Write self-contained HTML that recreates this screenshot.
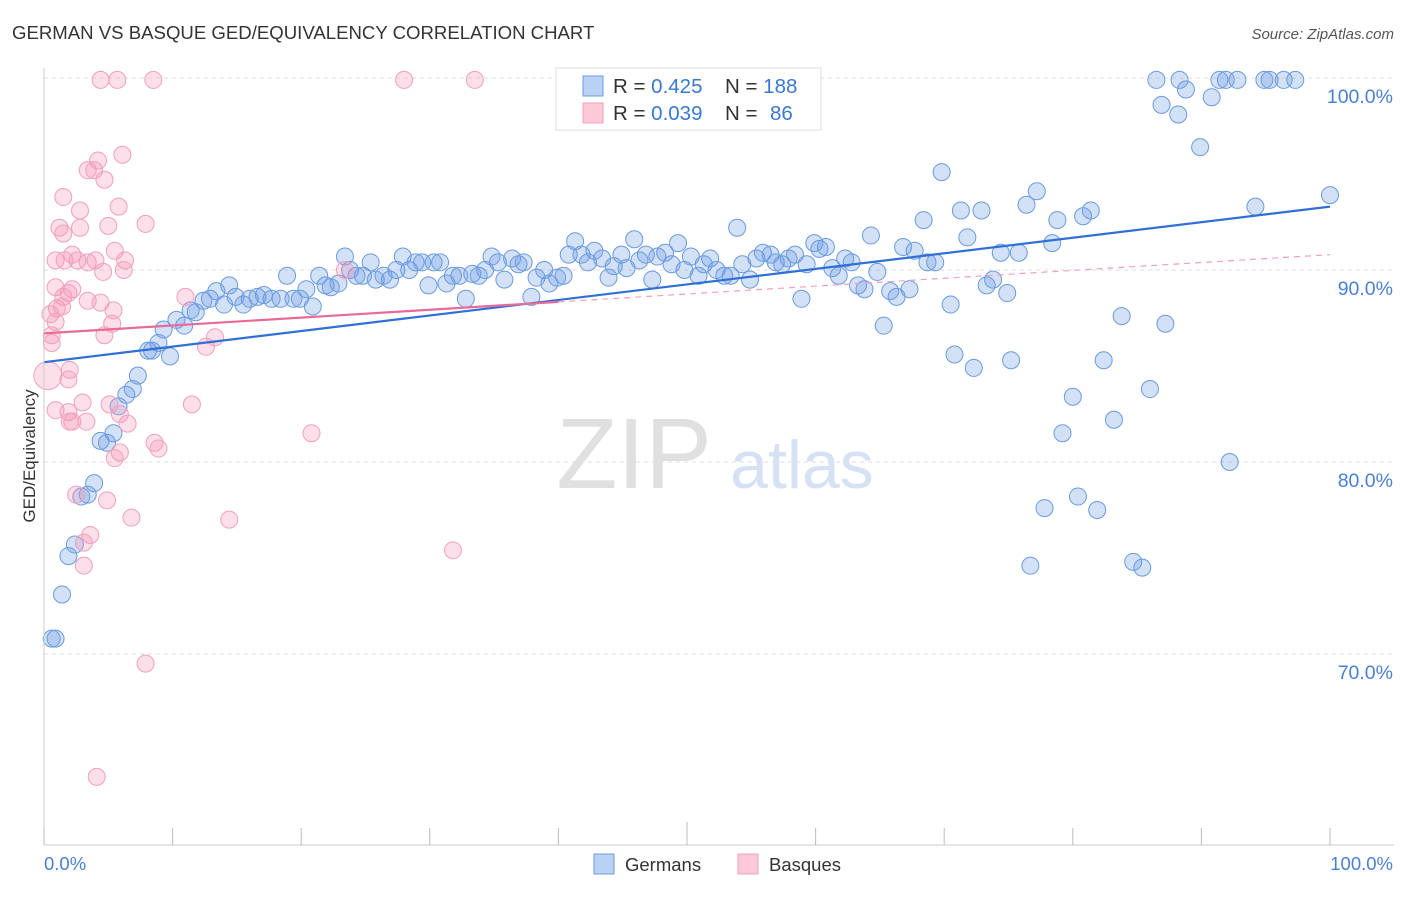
<!DOCTYPE html>
<html><head><meta charset="utf-8"><style>
body{margin:0;background:#fff;font-family:"Liberation Sans",sans-serif}
svg text{font-family:"Liberation Sans",sans-serif}
</style></head><body>
<svg id="chart" width="1406" height="892" xmlns="http://www.w3.org/2000/svg">
<text x="12" y="39" font-size="18.6" fill="#333">GERMAN VS BASQUE GED/EQUIVALENCY CORRELATION CHART</text>
<text x="1394" y="39" font-size="15" fill="#555" font-style="italic" text-anchor="end">Source: ZipAtlas.com</text>
<g id="grid"></g>
<text x="634" y="488" font-size="100" fill="#e0e0e0" font-family="Liberation Serif" text-anchor="middle">ZIP</text>
<text x="802" y="488" font-size="68" fill="#d6e2f4" text-anchor="middle">atlas</text>
<g id="pts"></g>
<g id="trends"></g>
<line x1="44" y1="68" x2="44" y2="845" stroke="#ccc"/>
<line x1="44" y1="845" x2="1394" y2="845" stroke="#ccc"/>
<g id="ticks"></g>
<text transform="translate(35,456) rotate(-90)" font-size="17" fill="#333" text-anchor="middle">GED/Equivalency</text>
<text x="44" y="870" font-size="18.5" fill="#4a7fd4">0.0%</text>
<text x="1393" y="870" font-size="18.5" fill="#4a7fd4" text-anchor="end">100.0%</text>
<g>
<rect x="556" y="68" width="265" height="62" fill="#fff" stroke="#ddd"/>
<rect x="583" y="76" width="20" height="20" fill="#b9d2f4" stroke="#6a9be0"/>
<rect x="583" y="103" width="20" height="20" fill="#fbc9d8" stroke="#f0a0bc"/>
<text x="613" y="93" font-size="20.5" fill="#333">R = <tspan fill="#3a78d6">0.425</tspan><tspan x="725">N = </tspan><tspan fill="#3a78d6">188</tspan></text>
<text x="613" y="120" font-size="20.5" fill="#333">R = <tspan fill="#3a78d6">0.039</tspan><tspan x="725">N = </tspan><tspan x="770" fill="#3a78d6">86</tspan></text>
</g>
<g>
<rect x="594" y="854" width="20" height="20" fill="#b9d2f4" stroke="#6a9be0"/>
<text x="625" y="871" font-size="18.5" fill="#333">Germans</text>
<rect x="738" y="854" width="20" height="20" fill="#fbc9d8" stroke="#f0a0bc"/>
<text x="769" y="871" font-size="18.5" fill="#333">Basques</text>
</g>
</svg>
<script>
const yTicks=[100,90,80,70];
const yTickLabels=["100.0%","90.0%","80.0%","70.0%"];
const xTicks=[0,10,20,30,40,50,60,70,80,90,100];
const germansX=[0.6,0.9,1.4,1.9,2.4,2.9,3.4,3.9,4.4,4.9,5.4,5.8,6.4,6.9,7.3,8.1,8.4,8.9,9.8,9.3,10.3,10.9,11.4,11.8,12.4,12.9,13.4,14.0,14.4,14.9,15.5,16.0,16.6,17.1,17.7,18.4,18.9,19.4,19.9,20.4,20.9,21.4,21.9,22.3,22.9,23.4,23.8,24.3,24.8,25.4,25.8,26.4,26.9,27.4,27.9,28.4,28.9,29.4,29.9,30.3,30.8,31.3,31.8,32.3,32.8,33.3,33.8,34.3,34.8,35.3,35.8,36.4,36.9,37.3,37.9,38.3,38.9,39.3,39.9,40.4,40.8,41.3,41.8,42.3,42.8,43.4,43.9,44.3,44.9,45.3,45.9,46.3,46.8,47.3,47.7,48.3,48.8,49.3,49.8,50.3,50.9,51.3,51.8,52.3,52.9,53.4,53.9,54.3,54.9,55.4,55.9,56.5,56.9,57.4,57.9,58.4,58.9,59.3,59.9,60.3,60.8,61.3,61.8,62.3,62.8,63.3,63.8,64.3,64.8,65.3,65.8,66.3,66.8,67.3,67.7,68.4,68.7,69.3,69.8,70.5,70.8,71.3,71.8,72.3,72.9,73.3,73.8,74.4,74.9,75.2,75.8,76.4,76.7,77.2,77.8,78.4,78.8,79.2,80.0,80.4,80.8,81.4,81.9,82.4,83.2,83.8,84.7,85.4,86.0,86.5,86.9,87.2,88.2,88.3,88.8,89.9,90.8,91.4,91.9,92.2,92.8,94.2,94.9,95.3,96.4,97.3,100];
const germansY=[70.8,70.8,73.1,75.1,75.7,78.2,78.3,78.9,81.1,81.0,81.5,82.9,83.5,83.8,84.5,85.8,85.8,86.2,85.5,86.9,87.4,87.1,87.9,87.8,88.4,88.5,88.9,88.2,89.2,88.6,88.2,88.5,88.6,88.7,88.5,88.5,89.7,88.5,88.5,89.0,88.1,89.7,89.2,89.1,89.3,90.7,90.0,89.7,89.7,90.4,89.5,89.7,89.5,90.0,90.7,90.0,90.4,90.4,89.2,90.4,90.4,89.3,89.7,89.7,88.5,89.8,89.7,90.0,90.7,90.4,89.5,90.6,90.3,90.4,88.6,89.6,90.0,89.3,89.6,89.7,90.8,91.5,90.8,90.4,91.0,90.6,89.6,90.2,90.8,90.1,91.6,90.5,90.8,89.5,90.7,90.9,90.3,91.4,90.0,90.7,89.7,90.3,90.6,90.0,89.7,89.7,92.2,90.3,89.5,90.6,90.9,90.8,90.4,90.3,90.6,90.8,88.5,90.3,91.4,91.1,91.2,90.1,89.7,90.6,90.4,89.2,89.0,91.8,89.9,87.1,88.9,88.6,91.2,89.0,91.0,92.6,90.4,90.4,95.1,88.2,85.6,93.1,91.7,84.9,93.1,89.2,89.5,90.9,88.8,85.3,90.9,93.4,74.6,94.1,77.6,91.4,92.6,81.5,83.4,78.2,92.8,93.1,77.5,85.3,82.2,87.6,74.8,74.5,83.8,99.9,98.6,87.2,98.1,99.9,99.4,96.4,99.0,99.9,99.9,80.0,99.9,93.3,99.9,99.9,99.9,99.9,93.9];
const basquesX=[4.4,5.7,8.5,28.0,33.5,6.1,4.2,3.4,3.9,4.7,1.5,5.8,2.8,7.9,1.2,2.8,5.0,1.5,5.5,2.2,0.9,1.6,2.6,3.4,4.0,6.3,4.6,6.2,23.4,0.9,2.2,1.5,1.9,3.4,11.0,4.4,1.0,1.4,5.4,0.5,0.9,5.3,0.6,4.7,13.3,12.6,0.6,0.3,2.0,1.9,3.0,5.1,11.5,0.9,1.9,2.2,5.9,3.3,2.0,6.5,20.8,8.6,8.9,5.9,5.5,2.5,4.9,6.8,14.4,3.6,3.1,31.8,3.1,7.9,4.1];
const basquesY=[99.9,99.9,99.9,99.9,99.9,96.0,95.7,95.2,95.2,94.7,93.8,93.3,93.1,92.4,92.2,92.2,92.3,91.9,91.0,90.8,90.5,90.5,90.5,90.4,90.5,90.5,89.9,90.0,90.0,89.1,89.0,88.6,88.8,88.4,88.6,88.3,88.0,88.1,87.9,87.7,87.3,87.2,86.6,86.6,86.5,86.0,86.2,84.5,84.8,84.3,83.1,83.0,83.0,82.7,82.6,82.1,82.5,82.1,82.1,82.0,81.5,81.0,80.7,80.5,80.2,78.3,78.0,77.1,77.0,76.2,75.8,75.4,74.6,69.5,63.6];
const germansTrend=[85.2,93.3];
const basquesTrend=[86.7,90.8];
const basquesSolidEnd=40;

const NS="http://www.w3.org/2000/svg";
const X=v=>44+v*12.86;
const Y=v=>78+(100-v)*19.2;
function mk(tag,attrs,parent){const e=document.createElementNS(NS,tag);for(const k in attrs)e.setAttribute(k,attrs[k]);parent.appendChild(e);return e;}
const grid=document.getElementById('grid');
yTicks.forEach((t,i)=>{
  const l=mk('line',{x1:44,x2:1394,y1:Y(t),y2:Y(t),stroke:'#ddd','stroke-dasharray':'4,4'},grid);
  
  
  const tx=mk('text',{x:1393,y:Y(t)+25,'font-size':19.5,fill:'#4a7fd4','text-anchor':'end'},grid);
  tx.textContent=yTickLabels[i];
  
  
});
const ticks=document.getElementById('ticks');
xTicks.forEach(t=>{
  const l=mk('line',{x1:X(t),x2:X(t),y1:t===50?822:828,y2:845,stroke:'#bbb'},ticks);
  
  
});
const pts=document.getElementById('pts');
germansX.forEach((x,i)=>{
  const c=mk('circle',{cx:X(x),cy:Y(germansY[i]),r:8.5,fill:'rgba(110,155,230,0.3)',stroke:'#6a9be0','stroke-width':1},pts);
  
  
});
basquesX.forEach((x,i)=>{
  const c=mk('circle',{cx:X(x),cy:Y(basquesY[i]),r:i===47?14:8.5,fill:'rgba(245,150,180,0.3)',stroke:'#f0a0bc','stroke-width':1},pts);
  
  
});
const tr=document.getElementById('trends');
const gl=mk('line',{x1:X(0),y1:Y(germansTrend[0]),x2:X(100),y2:Y(germansTrend[1]),stroke:'#2f6fd6','stroke-width':2.2},tr);


const bAt=v=>basquesTrend[0]+(basquesTrend[1]-basquesTrend[0])*v/100;
const bl=mk('line',{x1:X(0),y1:Y(bAt(0)),x2:X(basquesSolidEnd),y2:Y(bAt(basquesSolidEnd)),stroke:'#e86a98','stroke-width':2.2},tr);


const bd=mk('line',{x1:X(basquesSolidEnd),y1:Y(bAt(basquesSolidEnd)),x2:X(100),y2:Y(bAt(100)),stroke:'#eea0bb','stroke-width':1.2,'stroke-dasharray':'6,5'},tr);


</script>
</body></html>
